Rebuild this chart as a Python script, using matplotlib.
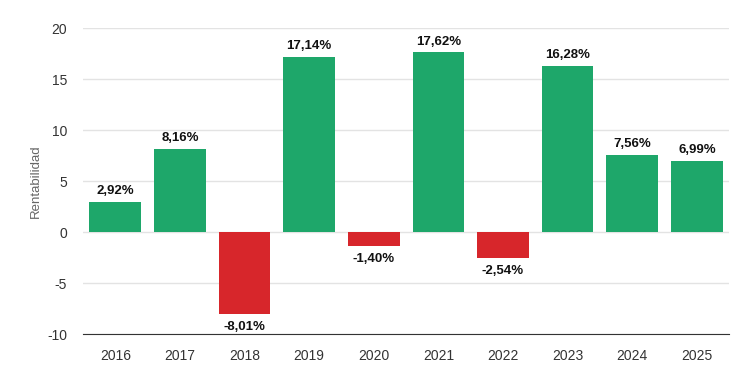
import matplotlib
matplotlib.use("Agg")
import matplotlib.pyplot as plt

years = ["2016", "2017", "2018", "2019", "2020", "2021", "2022", "2023", "2024", "2025"]
returns = [2.92, 8.16, -8.01, 17.14, -1.40, 17.62, -2.54, 16.28, 7.56, 6.99]

plt.rcParams["font.family"] = ["Liberation Sans", "DejaVu Sans"]
plt.rcParams["axes.unicode_minus"] = False

fig = plt.figure(figsize=(7.38, 3.75), dpi=100)
ax = fig.add_axes([0.1125, 0.109, 0.8755, 0.816])

colors = ["#1ea76a" if v >= 0 else "#d7262b" for v in returns]
x = range(len(years))
bars = ax.bar(x, returns, width=0.8, color=colors, zorder=3)

for b, v in zip(bars, returns):
    txt = f"{v:.2f}%".replace(".", ",")
    cx = b.get_x() + b.get_width() / 2
    if v >= 0:
        ax.annotate(txt, (cx, v), xytext=(0, 3.5), textcoords="offset points",
                    ha="center", va="bottom", fontsize=9.5, fontweight="bold", color="#111111")
    else:
        ax.annotate(txt, (cx, v), xytext=(0, -5), textcoords="offset points",
                    ha="center", va="top", fontsize=9.5, fontweight="bold", color="#111111")

ax.set_xlim(-0.5, len(years) - 0.5)
ax.set_ylim(-10, 20)
ax.set_yticks([-10, -5, 0, 5, 10, 15, 20])
ax.set_xticks(list(x))
ax.set_xticklabels(years)
ax.grid(axis="y", color="#e3e3e3", linewidth=1, zorder=0)
for s in ["top", "right", "left"]:
    ax.spines[s].set_visible(False)
ax.spines["bottom"].set_color("#333333")
ax.tick_params(axis="both", length=0, labelsize=10, colors="#333333")
ax.tick_params(axis="x", pad=11)
ax.tick_params(axis="y", pad=11.5)
ax.set_ylabel("Rentabilidad", fontsize=9.5, color="#666666", labelpad=4)

fig.savefig("out.png", dpi=100)
